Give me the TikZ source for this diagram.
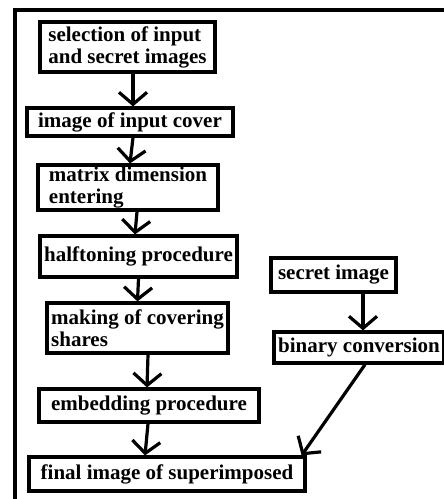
\documentclass[tikz,border=0pt]{standalone}
\usepackage{fontspec}
\setmainfont{Liberation Serif}
\usepackage{tikz}
\usetikzlibrary{arrows.meta}

\tikzset{
  stage/.style={draw,line width=3.2pt,align=left,inner xsep=2pt,inner ysep=0pt,
    font=\fontsize{21}{22}\selectfont\bfseries},
  flow/.style={line width=3.2pt,-{Straight Barb[length=12pt,width=28pt]}}
}

\begin{document}
\begin{tikzpicture}[x=1pt,y=-1pt]
\useasboundingbox (0,0) rectangle (444,499);

% Outer frame
\draw[line width=3.2pt] (15,505) -- (15,10) -- (450,10);

% Main column
\node[stage,minimum width=175,minimum height=50] (sel) at (127.5,47) {selection of input\\and secret images};
\node[stage,minimum width=206,minimum height=28] (cover) at (130,122) {image of input cover};
\node[stage,minimum width=180,minimum height=45] (matrix) at (128,187.5) {matrix dimension\\entering};
\node[stage,minimum width=197,minimum height=41] (halftone) at (138.5,256.5) {halftoning procedure};
\node[stage,minimum width=181,minimum height=50] (shares) at (137.5,328) {making of covering\\shares};
\node[stage,minimum width=220,minimum height=33] (embed) at (149,405.5) {embedding procedure};
\node[stage,minimum width=276,minimum height=34] (final) at (167,474) {final image of superimposed};

% Secret branch
\node[stage,minimum width=125,minimum height=34] (secret) at (333.5,275) {secret image};
\node[stage,minimum width=170,minimum height=31] (binary) at (359,347.5) {binary conversion};

% Connectors
\draw[flow] ([xshift=5.5]sel.south) -- ([xshift=3]cover.north);
\draw[flow] ([xshift=3]cover.south) -- ([xshift=2]matrix.north);
\draw[flow] ([xshift=9]matrix.south) -- ([xshift=-3.5]halftone.north);
\draw[flow] (halftone.south) -- (shares.north);
\draw[flow] ([xshift=10.5]shares.south) -- ([xshift=-2]embed.north);
\draw[flow] ([xshift=-1]embed.south) -- ([xshift=-22]final.north);
\draw[flow] ([xshift=29.5]secret.south) -- ([xshift=4]binary.south |- binary.north);
\draw[flow] ([xshift=6]binary.south) -- ([xshift=-5]final.north east);
\end{tikzpicture}
\end{document}
